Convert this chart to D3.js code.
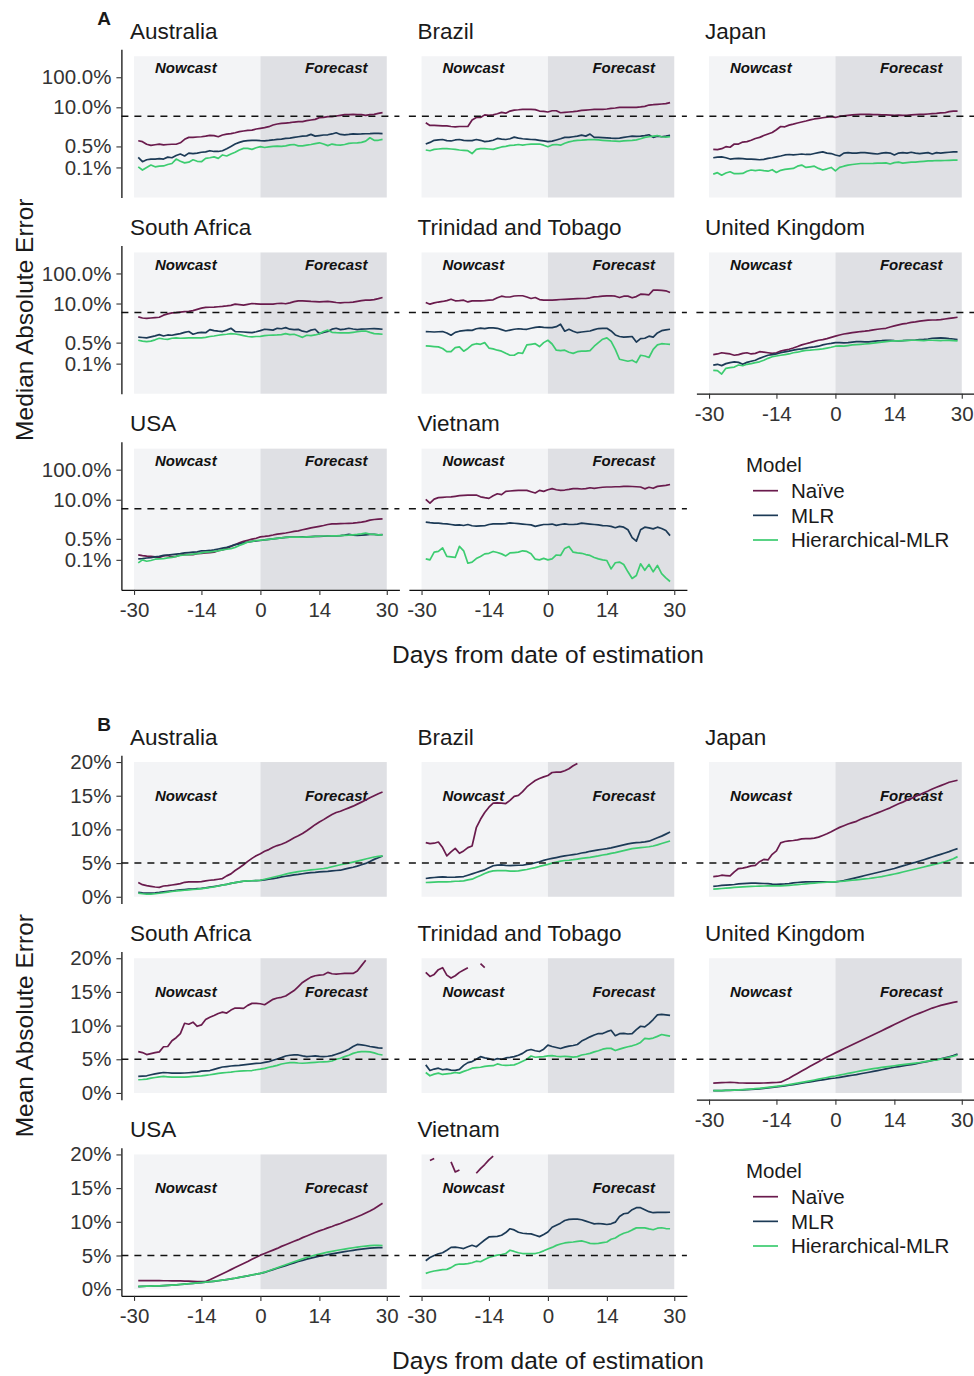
<!DOCTYPE html>
<html>
<head>
<meta charset="utf-8">
<script src="https://cdn.jsdelivr.net/npm/d3@7"></script>
<style>
  body { margin: 0; background: #fff; }
  svg { font-family: "Liberation Sans", Arial, Helvetica, sans-serif; }
</style>
</head>
<body>
<svg id="chart" width="974" height="1376"></svg>
<script>
var days = [-29,-28,-27,-26,-25,-24,-23,-22,-21,-20,-19,-18,-17,-16,-15,-14,-13,-12,-11,-10,
  -9,-8,-7,-6,-5,-4,-3,-2,-1,0,1,2,3,4,5,6,7,8,9,10,11,12,13,14,15,16,17,18,19,20,
  21,22,23,24,25,26,27,28,29];
var countries = ["Australia", "Brazil", "Japan", "South Africa", "Trinidad and Tobago",
  "United Kingdom", "USA", "Vietnam"];
var models = ["Naïve", "MLR", "Hierarchical-MLR"];
var modelColors = ["#6a1b4d", "#1c3a56", "#3ccc70"];
var dayTicks = [-30, -14, 0, 14, 30];
var dayTickLabels = ["-30", "-14", "0", "14", "30"];
var medianTicks = [0.1, 0.5, 10, 100];
var medianTickLabels = ["0.1%", "0.5%", "10.0%", "100.0%"];
var meanTicks = [0, 5, 10, 15, 20];
var meanTickLabels = ["0%", "5%", "10%", "15%", "20%"];

// A: median absolute error, percent
var medAusNaive = [0.77,0.72,0.59,0.54,0.57,0.6,0.56,0.58,0.59,0.59, 0.66,0.86,1.0,1.0,1.03,1.05,1.1,1.17,1.14,1.05,
  1.2,1.29,1.33,1.43,1.55,1.63,1.71,1.75,1.9,2.0, 2.1,2.27,2.58,2.78,2.93,3.0,3.08,3.24,3.33,3.33,
  3.6,3.78,3.98,4.53,4.64,4.89,4.89,5.14,5.41,5.7, 5.7,5.85,5.7,5.7,5.41,5.7,5.85,6.31,6.64];
var medAusMLR = [0.215,0.155,0.18,0.19,0.19,0.195,0.19,0.22,0.21,0.25, 0.28,0.24,0.3,0.29,0.3,0.32,0.33,0.36,0.34,0.34,
  0.36,0.42,0.5,0.6,0.68,0.75,0.78,0.8,0.8,0.78, 0.77,0.79,0.82,0.86,0.88,0.92,0.95,1.0,1.05,1.1,
  1.12,1.26,1.1,1.15,1.2,1.22,1.3,1.42,1.25,1.22, 1.25,1.3,1.29,1.3,1.32,1.33,1.35,1.36,1.34];
var medAusHMLR = [0.105,0.082,0.1,0.12,0.105,0.11,0.112,0.125,0.135,0.19, 0.16,0.142,0.15,0.18,0.16,0.155,0.2,0.21,0.225,0.2,
  0.26,0.24,0.28,0.32,0.38,0.43,0.43,0.4,0.45,0.49, 0.46,0.48,0.5,0.51,0.5,0.52,0.56,0.58,0.52,0.52,
  0.55,0.58,0.62,0.66,0.6,0.53,0.6,0.56,0.55,0.58, 0.63,0.65,0.66,0.68,0.75,0.97,0.8,0.8,0.86];
var medBraNaive = [3.06,2.5,2.5,2.45,2.4,2.4,2.3,2.24,2.3,2.3, 2.3,3.8,4.6,4.6,5.6,5.4,5.6,6.1,6.8,6.4,
  7.5,8.1,8.3,8.6,8.6,8.6,8.4,7.5,7.3,7.0, 7.7,7.7,6.6,6.8,7.0,7.2,7.5,7.9,8.1,8.3,
  8.5,8.6,8.6,8.8,9.2,9.5,10,10,10,10, 10,10.3,10.8,11.9,12.2,12.6,12.9,13.2,14.3];
var medBraMLR = [0.6,0.68,0.8,0.83,0.85,0.78,0.76,0.82,0.85,0.8, 0.78,0.78,0.85,0.8,0.72,0.75,0.8,0.92,0.88,0.85,
  0.9,1.02,0.95,0.9,0.88,0.85,0.84,0.8,0.76,0.72, 0.75,0.82,0.9,1.0,1.0,1.05,1.1,1.19,1.1,1.29,
  1.0,1.0,0.98,0.96,0.94,0.93,0.95,1.0,1.05,1.1, 1.08,1.1,1.15,1.22,1.0,1.1,1.05,1.1,1.17];
var medBraHMLR = [0.38,0.36,0.4,0.41,0.42,0.42,0.41,0.4,0.38,0.37, 0.36,0.29,0.4,0.42,0.42,0.41,0.4,0.44,0.48,0.5,
  0.54,0.55,0.58,0.55,0.58,0.6,0.6,0.6,0.55,0.49, 0.56,0.58,0.55,0.64,0.71,0.76,0.8,0.81,0.83,0.85,
  0.84,0.82,0.8,0.78,0.76,0.75,0.74,0.76,0.78,0.8, 0.83,0.9,1.0,1.05,1.1,1.15,1.05,1.02,1.05];
var medJpnNaive = [0.4,0.39,0.42,0.49,0.47,0.6,0.6,0.7,0.72,0.8, 0.92,1.0,1.15,1.3,1.45,1.8,2.3,2.25,2.55,2.75,
  3.0,3.25,3.5,3.8,4.1,4.3,4.5,4.7,4.9,4.6, 5.0,5.2,5.4,5.6,5.7,5.8,5.8,5.8,5.7,5.7,
  5.6,5.6,5.5,5.4,5.5,5.4,5.4,5.6,5.7,5.8, 5.8,6.0,6.2,6.3,6.5,6.6,7.2,7.5,7.5];
var medJpnMLR = [0.21,0.22,0.225,0.21,0.19,0.195,0.2,0.195,0.19,0.19, 0.185,0.18,0.185,0.2,0.21,0.225,0.24,0.26,0.27,0.26,
  0.27,0.28,0.27,0.27,0.29,0.31,0.33,0.3,0.29,0.26, 0.24,0.3,0.31,0.3,0.3,0.31,0.31,0.3,0.29,0.28,
  0.3,0.31,0.3,0.26,0.3,0.31,0.3,0.32,0.3,0.29, 0.3,0.31,0.28,0.31,0.3,0.31,0.32,0.33,0.33];
var medJpnHMLR = [0.06,0.067,0.055,0.065,0.072,0.062,0.062,0.063,0.075,0.082, 0.078,0.082,0.078,0.075,0.084,0.068,0.08,0.086,0.09,0.093,
  0.11,0.12,0.1,0.105,0.11,0.093,0.082,0.09,0.1,0.077, 0.1,0.11,0.12,0.125,0.13,0.135,0.135,0.135,0.136,0.14,
  0.14,0.142,0.13,0.145,0.15,0.14,0.145,0.15,0.15,0.155, 0.16,0.165,0.166,0.17,0.168,0.17,0.172,0.175,0.176];
var medZafNaive = [3.6,3.3,3.2,3.3,3.4,3.5,4.1,4.5,4.9,5.0, 5.2,5.4,5.5,5.8,6.4,7.0,7.4,7.5,7.6,7.8,
  8.0,8.3,8.7,9.5,9.2,8.8,9.4,10,9.8,9.6, 9.5,9.5,9.6,10,10.2,9.8,10.5,11.5,12.3,12.2,
  12.0,11.7,11.5,11.3,11.5,11.7,11.3,10.8,10.5,10.8, 10.8,11.2,11.8,12.5,12.9,13.0,13.5,14.5,15.8];
var medZafMLR = [0.76,0.74,0.72,0.78,0.84,0.92,0.83,0.9,0.88,0.94, 1.0,1.1,1.17,0.95,1.05,1.1,1.07,1.35,1.25,1.2,
  1.17,1.3,1.5,1.17,1.15,1.13,1.1,1.07,1.15,1.25, 1.39,1.35,1.3,1.5,1.45,1.58,1.4,1.36,1.38,1.2,
  1.13,1.3,1.39,1.0,1.1,1.17,1.4,1.5,1.35,1.4, 1.5,1.42,1.36,1.4,1.42,1.45,1.47,1.44,1.39];
var medZafHMLR = [0.6,0.56,0.54,0.56,0.62,0.7,0.66,0.64,0.7,0.72, 0.7,0.71,0.72,0.72,0.72,0.72,0.75,0.8,0.83,0.88,
  0.92,0.95,1.0,0.97,0.92,0.85,0.8,0.78,0.8,0.81, 0.85,0.88,0.89,0.9,0.92,1.0,0.92,0.95,0.85,0.75,
  0.88,0.85,0.9,0.98,1.17,1.3,1.1,1.07,1.06,1.05, 1.05,1.1,1.15,1.2,1.22,1.1,1.0,0.98,0.95];
var medTtoNaive = [10.8,9.5,10.5,11.2,11.7,12.5,13.9,12.3,12.5,12.9, 11.3,12.3,12.3,12.3,12.4,12.9,13.3,15.5,17.5,16.5,
  16.5,17.8,18.1,18.1,16.5,14.7,15.8,13.5,12.9,12.9, 13.0,13.3,13.6,13.7,13.9,14.2,14.5,14.7,14.7,15.5,
  16.7,17.0,17.6,18.0,18.1,17.5,15.8,17.5,17.6,15.5, 17.0,20.5,20.0,19.5,27.8,27.8,27.5,26.5,23.3];
var medTtoMLR = [1.17,1.15,1.13,1.15,1.17,1.05,0.88,1.1,1.2,1.25, 1.3,1.28,1.45,1.52,1.47,1.55,1.55,1.5,1.35,1.22,
  1.3,1.39,1.45,1.4,1.39,1.5,1.6,1.66,1.6,1.58, 1.58,1.7,2.05,1.2,1.39,1.2,1.07,1.13,1.17,1.22,
  1.35,1.47,1.5,1.5,1.22,0.9,0.8,0.76,0.78,0.8, 0.52,0.68,0.7,0.82,0.76,1.05,1.25,1.32,1.39];
var medTtoHMLR = [0.39,0.38,0.37,0.36,0.32,0.25,0.25,0.34,0.36,0.26, 0.32,0.42,0.46,0.44,0.5,0.33,0.31,0.28,0.26,0.22,
  0.19,0.19,0.23,0.22,0.42,0.44,0.46,0.37,0.5,0.6, 0.45,0.28,0.27,0.28,0.24,0.22,0.25,0.26,0.26,0.27,
  0.38,0.5,0.65,0.72,0.55,0.3,0.14,0.13,0.12,0.13, 0.108,0.19,0.18,0.16,0.3,0.42,0.46,0.45,0.44];
var medGbrNaive = [0.2,0.21,0.23,0.22,0.21,0.19,0.2,0.22,0.23,0.21, 0.22,0.25,0.24,0.23,0.22,0.23,0.26,0.28,0.3,0.33,
  0.37,0.42,0.46,0.5,0.55,0.6,0.63,0.68,0.75,0.82, 0.9,0.97,1.02,1.07,1.12,1.17,1.2,1.25,1.32,1.39,
  1.45,1.5,1.65,1.8,1.95,2.1,2.2,2.35,2.45,2.6, 2.7,2.8,2.83,2.85,2.9,3.05,3.2,3.35,3.5];
var medGbrMLR = [0.089,0.095,0.086,0.1,0.108,0.114,0.11,0.095,0.11,0.12, 0.13,0.15,0.17,0.19,0.2,0.21,0.23,0.245,0.26,0.28,
  0.3,0.31,0.33,0.35,0.36,0.38,0.42,0.45,0.47,0.5, 0.5,0.49,0.5,0.52,0.54,0.54,0.53,0.53,0.55,0.57,
  0.58,0.6,0.6,0.58,0.57,0.58,0.6,0.6,0.61,0.63, 0.64,0.66,0.7,0.71,0.72,0.71,0.68,0.66,0.63];
var medGbrHMLR = [0.06,0.059,0.045,0.07,0.074,0.077,0.09,0.085,0.095,0.1, 0.108,0.115,0.13,0.15,0.17,0.18,0.19,0.2,0.21,0.23,
  0.24,0.26,0.275,0.28,0.29,0.3,0.31,0.33,0.35,0.38, 0.39,0.38,0.4,0.42,0.43,0.44,0.45,0.46,0.48,0.5,
  0.52,0.54,0.56,0.57,0.57,0.58,0.58,0.6,0.6,0.59, 0.58,0.6,0.6,0.59,0.58,0.6,0.59,0.58,0.57];
var medUsaNaive = [0.146,0.138,0.132,0.13,0.125,0.12,0.135,0.14,0.125,0.13, 0.145,0.15,0.148,0.15,0.16,0.165,0.17,0.175,0.18,0.2,
  0.215,0.24,0.28,0.32,0.37,0.41,0.45,0.49,0.52,0.58, 0.6,0.63,0.67,0.72,0.75,0.78,0.83,0.88,0.92,1.0,
  1.07,1.15,1.22,1.3,1.39,1.5,1.58,1.58,1.6,1.62, 1.64,1.66,1.72,1.8,1.9,2.1,2.2,2.25,2.3];
var medUsaMLR = [0.108,0.11,0.115,0.118,0.125,0.13,0.14,0.145,0.15,0.155, 0.16,0.17,0.175,0.18,0.185,0.2,0.2,0.205,0.215,0.23,
  0.245,0.26,0.29,0.32,0.34,0.37,0.39,0.41,0.43,0.44, 0.46,0.48,0.5,0.52,0.54,0.56,0.57,0.57,0.57,0.58,
  0.58,0.59,0.6,0.6,0.61,0.62,0.62,0.63,0.64,0.66, 0.7,0.66,0.65,0.66,0.68,0.7,0.7,0.68,0.69];
var medUsaHMLR = [0.079,0.1,0.09,0.095,0.105,0.108,0.11,0.116,0.12,0.13, 0.14,0.145,0.15,0.155,0.16,0.17,0.18,0.185,0.19,0.2,
  0.215,0.225,0.235,0.26,0.3,0.34,0.39,0.41,0.44,0.45, 0.46,0.48,0.5,0.52,0.54,0.56,0.57,0.57,0.57,0.57,
  0.58,0.58,0.6,0.61,0.62,0.62,0.63,0.63,0.64,0.65, 0.66,0.68,0.7,0.73,0.77,0.72,0.7,0.68,0.68];
var medVnmNaive = [10.2,7.7,10.5,11.7,12.0,12.3,12.5,13.0,13.6,14.0, 14.3,14.3,14.3,12.5,11.7,11.1,13.5,15.8,14.7,19.0,
  19.5,20.0,20.5,20.5,20.5,18.5,16.7,20.5,19.0,21.5, 23.3,21.5,20.5,21.0,22.0,23.3,23.3,22.7,23.5,25.0,
  23.8,25.0,26.0,26.5,26.5,27.0,27.0,27.8,27.8,27.5, 27.0,26.5,23.0,26.0,24.0,27.8,29.0,30.0,32.0];
var medVnmMLR = [1.8,1.72,1.66,1.66,1.6,1.58,1.5,1.42,1.45,1.39, 1.5,1.36,1.32,1.35,1.36,1.5,1.58,1.58,1.58,1.6,
  1.7,1.65,1.6,1.55,1.5,1.45,1.3,1.4,1.5,1.5, 1.55,1.4,1.5,1.58,1.5,1.5,1.55,1.66,1.6,1.55,
  1.5,1.45,1.38,1.36,1.3,1.17,1.3,1.22,1.0,0.55, 0.42,1.0,1.22,1.15,1.07,1.22,1.1,0.95,0.64];
var medVnmHMLR = [0.108,0.1,0.18,0.19,0.25,0.13,0.125,0.12,0.28,0.2, 0.077,0.084,0.11,0.13,0.158,0.165,0.19,0.175,0.158,0.135,
  0.17,0.175,0.18,0.2,0.19,0.16,0.105,0.1,0.112,0.1, 0.108,0.145,0.14,0.24,0.28,0.18,0.17,0.165,0.15,0.14,
  0.12,0.108,0.1,0.095,0.05,0.08,0.084,0.07,0.04,0.024, 0.03,0.074,0.045,0.07,0.04,0.065,0.035,0.025,0.019];

// B: mean absolute error, percent (null = above the 20% limit, dropped)
var meanAusNaive = [2.12,1.8,1.65,1.55,1.45,1.4,1.6,1.65,1.75,1.85, 1.95,2.15,2.2,2.2,2.2,2.25,2.35,2.45,2.5,2.6,
  2.7,3.1,3.4,3.9,4.3,4.75,5.25,5.7,6.1,6.4, 6.75,7.0,7.35,7.6,7.8,8.05,8.4,8.75,9.05,9.4,
  9.8,10.25,10.7,11.1,11.45,11.85,12.2,12.5,12.7,12.95, 13.2,13.45,13.75,14.05,14.35,14.7,15.0,15.3,15.55];
var meanAusMLR = [0.64,0.58,0.55,0.55,0.58,0.64,0.72,0.8,0.86,0.94, 1.03,1.07,1.12,1.15,1.2,1.25,1.32,1.42,1.52,1.62,
  1.75,1.85,1.98,2.1,2.2,2.3,2.35,2.38,2.41,2.42, 2.5,2.6,2.7,2.8,2.95,3.05,3.15,3.25,3.32,3.42,
  3.5,3.58,3.63,3.7,3.74,3.78,3.85,3.9,3.94,4.1, 4.25,4.38,4.55,4.75,4.95,5.25,5.55,5.8,6.05];
var meanAusHMLR = [0.54,0.45,0.4,0.39,0.45,0.52,0.6,0.7,0.78,0.86, 0.92,0.97,1.02,1.08,1.13,1.2,1.28,1.38,1.48,1.6,
  1.72,1.85,1.98,2.1,2.22,2.32,2.36,2.38,2.4,2.45, 2.6,2.75,2.9,3.05,3.2,3.35,3.5,3.62,3.72,3.82,
  3.9,3.98,4.05,4.12,4.2,4.3,4.45,4.6,4.75,4.88, 5.0,5.15,5.3,5.45,5.6,5.75,5.9,6.0,6.06];
var meanBraNaive = [8.03,7.9,7.95,8.13,7.3,6.06,6.65,7.19,6.45,6.8, 7.3,7.54,10.25,11.5,12.5,13.3,13.9,13.94,13.9,13.84,
  14.3,14.9,15.05,15.6,16.3,16.8,17.25,17.55,17.8,18.0, 18.45,18.5,18.5,18.7,19.0,19.45,19.8,null,null,null,
  null,null,null,null,null,null,null,null,null,null, null,null,null,null,null,null,null,null,null];
var meanBraMLR = [2.71,2.8,2.86,2.92,2.96,2.92,2.9,2.92,2.96,3.0, 3.2,3.4,3.6,3.8,4.0,4.3,4.6,4.7,4.73,4.65,
  4.63,4.65,4.68,4.68,4.8,4.88,5.05,5.2,5.4,5.57, 5.7,5.82,5.95,6.06,6.16,6.25,6.35,6.5,6.6,6.75,
  6.85,6.95,7.05,7.14,7.25,7.4,7.55,7.7,7.85,7.95, 8.03,8.08,8.15,8.25,8.5,8.75,9.0,9.3,9.6];
var meanBraHMLR = [2.12,2.15,2.18,2.2,2.22,2.22,2.25,2.3,2.32,2.36, 2.5,2.61,2.9,3.15,3.45,3.7,3.84,3.89,3.89,3.87,
  3.82,3.8,3.85,3.95,4.05,4.2,4.33,4.5,4.65,4.8, 5.0,5.15,5.3,5.38,5.42,5.5,5.6,5.7,5.78,5.85,
  5.95,6.06,6.2,6.3,6.45,6.55,6.7,6.85,7.0,7.15, 7.22,7.29,7.35,7.42,7.54,7.7,7.9,8.1,8.28];
var meanJpnNaive = [3.0,3.05,3.2,3.15,3.1,3.7,4.19,4.25,4.4,4.58, 4.65,5.2,5.55,5.47,6.3,6.8,8.0,8.2,8.3,8.35,
  8.45,8.6,8.62,8.62,8.7,8.85,9.1,9.35,9.65,10.0, 10.3,10.55,10.8,11.0,11.2,11.5,11.75,11.95,12.2,12.45,
  12.7,12.95,13.2,13.5,13.8,14.05,14.35,14.6,14.9,15.15, 15.45,15.7,16.0,16.25,16.5,16.75,17.0,17.15,17.3];
var meanJpnMLR = [1.53,1.6,1.68,1.72,1.77,1.82,1.9,1.96,2.0,2.02, 2.02,2.0,1.97,1.94,1.88,1.85,1.87,1.9,1.95,2.05,
  2.12,2.17,2.22,2.22,2.22,2.22,2.22,2.22,2.22,2.22, 2.3,2.4,2.55,2.7,2.85,3.0,3.15,3.3,3.45,3.6,
  3.75,3.9,4.05,4.2,4.4,4.58,4.75,4.95,5.1,5.3, 5.5,5.7,5.9,6.1,6.3,6.5,6.7,6.95,7.14];
var meanJpnHMLR = [1.13,1.18,1.23,1.28,1.33,1.38,1.43,1.48,1.5,1.53, 1.56,1.58,1.6,1.62,1.63,1.63,1.63,1.66,1.7,1.75,
  1.8,1.86,1.92,1.98,2.03,2.08,2.12,2.16,2.2,2.22, 2.27,2.32,2.39,2.45,2.51,2.58,2.65,2.71,2.8,2.9,
  3.0,3.12,3.25,3.38,3.52,3.67,3.82,3.97,4.12,4.27, 4.42,4.58,4.73,4.88,5.03,5.2,5.4,5.65,5.96];
var meanZafNaive = [6.13,6.0,5.7,5.85,5.98,6.1,6.86,6.9,7.75,8.2, 8.8,10.35,10.2,10.5,9.9,10.1,10.9,11.25,11.5,11.8,
  12.0,11.86,12.3,12.6,12.6,12.55,13.0,13.3,13.3,13.24, 13.1,13.5,13.9,14.1,14.2,14.4,14.8,15.2,15.8,16.4,
  16.8,17.2,17.4,17.5,17.55,17.9,17.7,17.65,17.7,17.75, 17.75,17.75,18.1,18.9,19.7,null,null,null,null];
var meanZafMLR = [2.45,2.5,2.55,2.7,2.84,2.95,3.04,3.0,2.94,2.94, 2.94,2.96,3.0,3.05,3.1,3.24,3.28,3.33,3.5,3.68,
  3.85,3.92,4.0,4.05,4.1,4.17,4.25,4.31,4.38,4.41, 4.55,4.65,4.85,5.05,5.25,5.49,5.6,5.64,5.64,5.5,
  5.4,5.45,5.5,5.42,5.39,5.45,5.55,5.75,5.95,6.2, 6.5,6.9,7.2,7.15,7.05,6.9,6.8,6.7,6.67];
var meanZafHMLR = [1.96,2.0,2.06,2.2,2.3,2.4,2.45,2.4,2.35,2.35, 2.35,2.35,2.4,2.45,2.5,2.55,2.62,2.7,2.8,2.9,
  2.98,3.04,3.1,3.19,3.25,3.28,3.3,3.33,3.45,3.53, 3.65,3.82,3.95,4.1,4.3,4.41,4.5,4.51,4.45,4.41,
  4.45,4.5,4.55,4.6,4.62,4.65,4.75,5.0,5.15,5.39, 5.6,5.88,6.05,6.13,6.13,6.1,5.95,5.75,5.64];
var meanTtoNaive = [17.9,17.3,17.6,18.3,18.6,17.5,17.06,17.4,17.9,18.25, 18.6,null,null,19.2,18.6,null,null,null,null,null,
  null,null,null,null,null,null,null,null,null,null, null,null,null,null,null,null,null,null,null,null,
  null,null,null,null,null,null,null,null,null,null, null,null,null,null,null,null,null,null,null];
var meanTtoMLR = [4.17,3.33,3.55,3.68,3.45,3.53,3.4,3.35,3.5,4.1, 4.5,4.66,5.0,5.39,5.2,5.1,4.9,5.1,5.0,5.2,
  5.29,5.4,5.6,5.88,6.3,6.45,6.27,6.15,6.5,7.1, 6.9,6.75,6.6,6.8,6.96,7.05,7.2,7.7,8.0,8.33,
  8.6,8.82,8.82,9.1,9.3,8.5,8.8,8.85,8.75,8.8, 9.4,9.9,9.8,10.3,10.9,11.6,11.67,11.6,11.52];
var meanTtoHMLR = [3.04,2.55,2.8,2.94,2.75,2.84,2.9,3.04,2.94,3.2, 3.4,3.68,3.75,3.82,3.95,4.02,4.05,4.31,4.15,4.1,
  4.12,4.17,4.4,4.7,5.0,5.49,5.3,5.35,5.39,5.5, 5.54,5.45,5.39,5.45,5.4,5.32,5.39,5.64,5.75,5.88,
  6.1,6.27,6.5,6.62,6.62,6.3,6.5,6.7,6.86,7.0, 7.2,7.5,8.09,8.04,8.15,8.4,8.68,8.55,8.43];
var meanGbrNaive = [1.47,1.5,1.52,1.55,1.57,1.55,1.5,1.48,1.47,1.47, 1.47,1.47,1.48,1.5,1.52,1.55,1.6,1.9,2.2,2.55,
  2.9,3.25,3.6,3.95,4.3,4.65,5.0,5.35,5.65,5.95, 6.25,6.55,6.85,7.15,7.45,7.75,8.05,8.35,8.65,8.95,
  9.25,9.55,9.85,10.15,10.45,10.75,11.05,11.35,11.6,11.85, 12.1,12.35,12.6,12.8,13.0,13.15,13.3,13.45,13.55];
var meanGbrMLR = [0.34,0.35,0.36,0.37,0.39,0.41,0.44,0.47,0.5,0.54, 0.58,0.62,0.68,0.75,0.83,0.9,0.98,1.06,1.15,1.25,
  1.35,1.45,1.55,1.65,1.75,1.86,1.95,2.05,2.15,2.22, 2.32,2.42,2.53,2.63,2.73,2.85,2.96,3.08,3.2,3.32,
  3.45,3.58,3.7,3.82,3.92,4.02,4.12,4.22,4.32,4.45, 4.57,4.7,4.82,4.95,5.08,5.22,5.38,5.55,5.78];
var meanGbrHMLR = [0.34,0.35,0.36,0.38,0.4,0.43,0.46,0.5,0.54,0.58, 0.63,0.69,0.75,0.82,0.9,0.98,1.06,1.15,1.25,1.35,
  1.46,1.57,1.68,1.8,1.92,2.05,2.18,2.3,2.42,2.52, 2.65,2.78,2.9,3.02,3.15,3.27,3.4,3.5,3.6,3.7,
  3.8,3.88,3.96,4.04,4.12,4.2,4.28,4.36,4.44,4.52, 4.62,4.72,4.82,4.92,5.03,5.15,5.3,5.45,5.64];
var meanUsaNaive = [1.27,1.27,1.27,1.27,1.26,1.26,1.25,1.25,1.24,1.23, 1.22,1.2,1.18,1.16,1.14,1.13,1.12,1.4,1.7,2.0,
  2.3,2.6,2.9,3.2,3.5,3.8,4.1,4.45,4.75,5.05, 5.3,5.55,5.8,6.05,6.35,6.6,6.85,7.1,7.35,7.65,
  7.9,8.15,8.4,8.65,8.85,9.1,9.3,9.55,9.75,10.0, 10.25,10.5,10.75,11.0,11.3,11.6,11.95,12.35,12.75];
var meanUsaMLR = [0.39,0.41,0.43,0.45,0.47,0.49,0.52,0.56,0.6,0.64, 0.69,0.74,0.8,0.86,0.92,0.98,1.04,1.1,1.17,1.25,
  1.33,1.42,1.52,1.62,1.74,1.86,1.98,2.1,2.22,2.35, 2.5,2.7,2.9,3.1,3.3,3.5,3.7,3.9,4.1,4.28,
  4.45,4.6,4.75,4.88,5.0,5.12,5.24,5.36,5.47,5.57, 5.67,5.77,5.86,5.94,6.02,6.08,6.12,6.16,6.18];
var meanUsaHMLR = [0.4,0.42,0.44,0.46,0.48,0.5,0.53,0.57,0.61,0.65, 0.7,0.75,0.81,0.87,0.93,0.99,1.05,1.11,1.18,1.26,
  1.34,1.43,1.53,1.63,1.75,1.87,1.99,2.11,2.23,2.35, 2.52,2.74,2.96,3.18,3.4,3.62,3.84,4.06,4.28,4.5,
  4.7,4.88,5.05,5.2,5.35,5.5,5.62,5.74,5.85,5.95, 6.05,6.15,6.25,6.33,6.4,6.45,6.5,6.5,6.48];
var meanVnmNaive = [null,19.1,19.4,null,null,null,18.9,17.4,17.7,null, null,null,17.2,17.9,18.5,19.2,19.75,null,null,null,
  null,null,null,null,null,null,null,null,null,null, null,null,null,null,null,null,null,null,null,null,
  null,null,null,null,null,null,null,null,null,null, null,null,null,null,null,null,null,null,null];
var meanVnmMLR = [4.22,4.7,5.0,5.25,5.4,5.78,6.2,6.25,6.15,6.03, 6.3,6.52,6.3,6.8,7.3,7.75,7.8,7.84,8.0,8.4,
  8.97,8.8,8.45,8.3,8.24,8.2,8.0,7.8,8.1,8.48, 9.2,9.5,9.8,10.2,10.35,10.4,10.4,10.3,10.1,9.9,
  9.7,9.75,9.7,9.6,9.7,9.95,10.8,11.2,11.3,11.8, 12.1,12.1,11.8,11.5,11.35,11.4,11.42,11.4,11.42];
var meanVnmHMLR = [2.35,2.55,2.7,2.8,2.9,2.94,3.2,3.6,3.73,3.73, 3.8,3.92,4.15,4.07,4.4,4.7,4.9,5.05,5.15,5.3,
  5.78,5.6,5.4,5.29,5.29,5.29,5.29,5.45,5.69,5.95, 6.2,6.5,6.7,6.86,6.95,7.0,7.1,7.16,7.0,6.8,
  6.76,6.8,6.9,7.0,7.4,7.6,8.0,8.3,8.48,8.8, 9.1,9.12,9.1,8.95,8.82,9.05,9.12,9.0,8.97];

var medianPanels = [
  [medAusNaive, medAusMLR, medAusHMLR], [medBraNaive, medBraMLR, medBraHMLR],
  [medJpnNaive, medJpnMLR, medJpnHMLR], [medZafNaive, medZafMLR, medZafHMLR],
  [medTtoNaive, medTtoMLR, medTtoHMLR], [medGbrNaive, medGbrMLR, medGbrHMLR],
  [medUsaNaive, medUsaMLR, medUsaHMLR], [medVnmNaive, medVnmMLR, medVnmHMLR]];
var meanPanels = [
  [meanAusNaive, meanAusMLR, meanAusHMLR], [meanBraNaive, meanBraMLR, meanBraHMLR],
  [meanJpnNaive, meanJpnMLR, meanJpnHMLR], [meanZafNaive, meanZafMLR, meanZafHMLR],
  [meanTtoNaive, meanTtoMLR, meanTtoHMLR], [meanGbrNaive, meanGbrMLR, meanGbrHMLR],
  [meanUsaNaive, meanUsaMLR, meanUsaHMLR], [meanVnmNaive, meanVnmMLR, meanVnmHMLR]];

var panelW = 278, panelH = 148.2;
var colLeft = [121.4, 408.9, 696.4];
var rowTop = [49.3, 245.5, 441.7];

var parts = [
  {letter: "A", offset: 0, log: true, domain: [0.01, 851], bgTop: 500, labelY: 200,
   ticks: medianTicks, tickLabels: medianTickLabels, panels: medianPanels, ytitle: "Median Absolute Error"},
  {letter: "B", offset: 706, log: false, domain: [-1, 21], bgTop: 20, labelY: 15,
   ticks: meanTicks, tickLabels: meanTickLabels, panels: meanPanels, ytitle: "Mean Absolute Error"}
];

var svg = d3.select("#chart");

function styleAxis(sel) {
  sel.select(".domain").attr("stroke", "#111").attr("stroke-width", 1.3);
  sel.selectAll(".tick line").attr("stroke", "#333").attr("stroke-width", 1.1);
  sel.selectAll(".tick text").attr("fill", "#333").style("font-size", "20.5px")
    .style("font-family", "'Liberation Sans', Arial, sans-serif");
}

function drawPart(part) {
  var root = svg.append("g").attr("transform", "translate(0," + part.offset + ")");

  root.append("text")
    .attr("x", 104).attr("y", 24.5)
    .attr("text-anchor", "middle")
    .style("font-weight", "bold").style("font-size", "19px").attr("fill", "#1a1a1a")
    .text(part.letter);

  part.panels.forEach(function(series, i) {
    var col = i % 3, row = Math.floor(i / 3);
    var x = d3.scaleLinear().domain([-33, 33]).range([0, panelW]);
    var y = (part.log ? d3.scaleLog() : d3.scaleLinear()).domain(part.domain).range([panelH, 0]);
    var bgBottom = part.log ? panelH : y(0);

    root.append("text")
      .attr("x", colLeft[col] + 8.6).attr("y", rowTop[row] - 10.3)
      .style("font-size", "22.5px").attr("fill", "#1a1a1a")
      .text(countries[i]);

    var g = root.append("g").attr("transform", "translate(" + colLeft[col] + "," + rowTop[row] + ")");

    g.append("rect")
      .attr("x", x(-30)).attr("width", x(0) - x(-30))
      .attr("y", y(part.bgTop)).attr("height", bgBottom - y(part.bgTop))
      .attr("fill", "#f3f4f6");
    g.append("rect")
      .attr("x", x(0)).attr("width", x(30) - x(0))
      .attr("y", y(part.bgTop)).attr("height", bgBottom - y(part.bgTop))
      .attr("fill", "#dfe0e4");

    g.selectAll("text.phase")
      .data([{t: "Nowcast", d: -17.7}, {t: "Forecast", d: 18}])
      .enter().append("text")
      .attr("class", "phase")
      .attr("x", function(d) { return x(d.d); })
      .attr("y", y(part.labelY))
      .attr("dy", "0.35em")
      .attr("text-anchor", "middle")
      .style("font-size", "15px").style("font-weight", "bold").style("font-style", "italic")
      .attr("fill", "#111")
      .text(function(d) { return d.t; });

    var line = d3.line()
      .defined(function(d) { return d != null; })
      .x(function(d, j) { return x(days[j]); })
      .y(function(d) { return y(d); });

    g.selectAll("path.model")
      .data(series)
      .enter().append("path")
      .attr("class", "model")
      .attr("fill", "none")
      .attr("stroke", function(d, k) { return modelColors[k]; })
      .attr("stroke-width", 1.7)
      .attr("stroke-linejoin", "round")
      .attr("d", line);

    g.append("line")
      .attr("x1", 0).attr("x2", panelW)
      .attr("y1", y(5)).attr("y2", y(5))
      .attr("stroke", "#111").attr("stroke-width", 1.5)
      .attr("stroke-dasharray", "7,6");

    if (col == 0) {
      g.append("g")
        .call(d3.axisLeft(y).tickValues(part.ticks)
          .tickFormat(function(d, k) { return part.tickLabels[k]; })
          .tickSize(5).tickSizeOuter(0).tickPadding(5))
        .call(styleAxis);
    }
    if (i >= 5) {
      g.append("g")
        .attr("transform", "translate(0," + panelH + ")")
        .call(d3.axisBottom(x).tickValues(dayTicks)
          .tickFormat(function(d, k) { return dayTickLabels[k]; })
          .tickSize(5).tickSizeOuter(0).tickPadding(8))
        .call(styleAxis);
    }
  });

  // axis titles
  root.append("text")
    .attr("x", 548).attr("y", 663)
    .attr("text-anchor", "middle")
    .style("font-size", "24.5px").attr("fill", "#1a1a1a")
    .text("Days from date of estimation");
  root.append("text")
    .attr("transform", "translate(33,319.7) rotate(-90)")
    .attr("text-anchor", "middle")
    .style("font-size", "24.5px").attr("fill", "#1a1a1a")
    .text(part.ytitle);

  // legend
  var legend = root.append("g").attr("transform", "translate(746,0)");
  legend.append("text")
    .attr("x", 0).attr("y", 471.5)
    .style("font-size", "20.5px").attr("fill", "#1a1a1a")
    .text("Model");
  var item = legend.selectAll("g.item")
    .data(models)
    .enter().append("g")
    .attr("class", "item")
    .attr("transform", function(d, k) { return "translate(0," + (490.7 + k * 24.65) + ")"; });
  item.append("line")
    .attr("x1", 7).attr("x2", 32)
    .attr("stroke", function(d, k) { return modelColors[k]; })
    .attr("stroke-width", 1.7);
  item.append("text")
    .attr("x", 45).attr("dy", "0.36em")
    .style("font-size", "20.5px").attr("fill", "#1a1a1a")
    .text(function(d) { return d; });
}

parts.forEach(drawPart);
</script>
</body>
</html>
